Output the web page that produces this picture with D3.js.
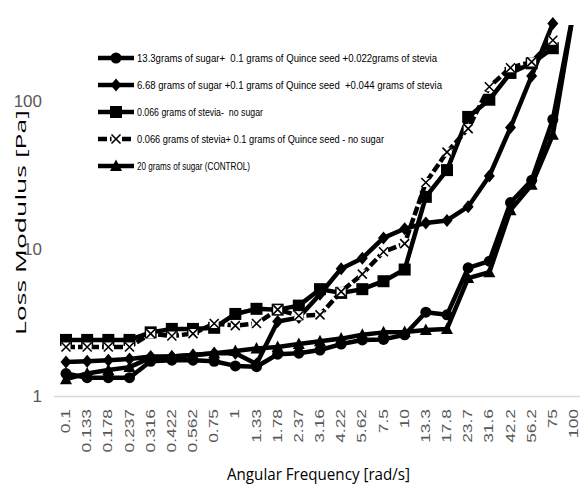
<!DOCTYPE html>
<html>
<head>
<meta charset="utf-8">
<script src="https://cdn.jsdelivr.net/npm/d3@7"></script>
<style>
  body { margin: 0; background: #fff; }
  svg { display: block; }
</style>
</head>
<body>
<svg id="chart" width="580" height="487"></svg>
<script>
// angular frequency categories (rad/s)
var freqs = ["0.1", "0.133", "0.178", "0.237", "0.316", "0.422", "0.562", "0.75", "1", "1.33",
    "1.78", "2.37", "3.16", "4.22", "5.62", "7.5", "10", "13.3", "17.8", "23.7", "31.6", "42.2",
    "56.2", "75", "100"];

// loss modulus [Pa]
var sugar133 = [1.42, 1.33, 1.33, 1.33, 1.72, 1.75, 1.75, 1.72, 1.6, 1.58, 1.92, 1.95, 2.05,
    2.25, 2.4, 2.42, 2.6, 3.7, 3.55, 7.4, 8.2, 20.5, 29, 75, 420];
var sugar668 = [1.7, 1.72, 1.75, 1.78, 1.85, 1.85, 1.9, 1.95, 1.95, 1.65, 3.2, 3.4, 4.9,
    7.3, 8.6, 11.8, 13.6, 14.9, 15.5, 19.2, 31, 66, 148, 335];
var steviaOnly = [2.4, 2.4, 2.4, 2.4, 2.7, 2.85, 2.85, 2.9, 3.6, 3.9, 3.85, 4.1, 5.3,
    5.0, 5.3, 6.0, 7.2, 22.4, 34, 78, 102, 155, 180, 228];
var steviaQuince = [2.15, 2.15, 2.15, 2.15, 2.65, 2.55, 2.65, 3.1, 3.0, 3.1, 3.85, 3.5, 3.55,
    5.1, 6.7, 9.5, 10.8, 28, 45, 65, 125, 168, 184, 258];
var control = [1.3, 1.42, 1.5, 1.57, 1.82, 1.85, 1.9, 1.95, 2.02, 2.1, 2.15, 2.25, 2.35,
    2.45, 2.6, 2.7, 2.72, 2.8, 2.85, 6.3, 6.9, 18.2, 27, 59, 420];

var seriesNames = [
    "13.3grams of sugar+  0.1 grams of Quince seed +0.022grams of stevia",
    "6.68 grams of sugar +0.1 grams of Quince seed  +0.044 grams of stevia",
    "0.066 grams of stevia-  no sugar",
    "0.066 grams of stevia+ 0.1 grams of Quince seed - no sugar",
    "20 grams of sugar (CONTROL)"
];
var yTicks = [1, 10, 100];

var series = [
    {name: seriesNames[0], values: sugar133, marker: "circle", dash: null, legendW: 300},
    {name: seriesNames[1], values: sugar668, marker: "diamond", dash: null, legendW: 305},
    {name: seriesNames[2], values: steviaOnly, marker: "square", dash: null, legendW: 126},
    {name: seriesNames[3], values: steviaQuince, marker: "x", dash: "9,3", legendW: 247},
    {name: seriesNames[4], values: control, marker: "triangle", dash: null, legendW: 113}
];

var svg = d3.select("#chart");

var x = d3.scalePoint()
    .domain(freqs)
    .range([66, 574]);

var y = d3.scaleLog()
    .domain([1, 1000])
    .range([396, 396 - 3 * 147.5]);

svg.append("defs").append("clipPath")
    .attr("id", "plotclip")
    .append("rect")
    .attr("x", 0)
    .attr("y", 25)
    .attr("width", 580)
    .attr("height", 380);

// category axis line
svg.append("line")
    .attr("x1", 54)
    .attr("x2", 580)
    .attr("y1", y(1) + 0.5)
    .attr("y2", y(1) + 0.5)
    .attr("stroke", "#d9d9d9")
    .attr("stroke-width", 1.5);

// y tick labels
svg.selectAll(".ylab")
    .data(yTicks)
    .enter()
    .append("text")
    .attr("class", "ylab")
    .attr("x", 42)
    .attr("y", function(d) { return y(d); })
    .attr("dy", "0.36em")
    .attr("text-anchor", "end")
    .attr("fill", "#595959")
    .style("font-family", "'Liberation Sans Narrow', 'Arial Narrow', sans-serif")
    .style("font-size", "17px")
    .text(function(d) { return d; });

// x tick labels, rotated
svg.selectAll(".xlab")
    .data(freqs)
    .enter()
    .append("text")
    .attr("class", "xlab")
    .attr("transform", function(d) {
        return "translate(" + (x(d) + 4) + ",409) rotate(-90) scale(1.45,1)";
    })
    .attr("text-anchor", "end")
    .attr("fill", "#595959")
    .style("font-family", "'Liberation Sans', Arial, sans-serif")
    .style("font-size", "12px")
    .text(function(d) { return d; });

// axis titles
svg.append("text")
    .attr("x", 227)
    .attr("y", 480)
    .attr("textLength", 183)
    .attr("lengthAdjust", "spacingAndGlyphs")
    .attr("fill", "#000")
    .style("font-family", "'Open Sans', sans-serif")
    .style("font-size", "16px")
    .text("Angular Frequency [rad/s]");

svg.append("text")
    .attr("transform", "translate(26,335) rotate(-90)")
    .attr("textLength", 225)
    .attr("lengthAdjust", "spacingAndGlyphs")
    .attr("fill", "#000")
    .style("font-family", "'Open Sans', sans-serif")
    .style("font-size", "14px")
    .text("Loss Modulus [Pa]");

function drawMarker(g, type) {
    if (type === "circle") {
        g.append("circle").attr("r", 5.5).attr("fill", "#000");
    } else if (type === "diamond") {
        g.append("path").attr("d", "M0,-6.5L5.5,0L0,6.5L-5.5,0Z").attr("fill", "#000");
    } else if (type === "square") {
        g.append("rect").attr("x", -6).attr("y", -6).attr("width", 12).attr("height", 12)
            .attr("fill", "#000");
    } else if (type === "x") {
        g.append("rect").attr("x", -4.5).attr("y", -4.5).attr("width", 9).attr("height", 9)
            .attr("fill", "#fff");
        g.append("path").attr("d", "M-4.5,-4.5L4.5,4.5M4.5,-4.5L-4.5,4.5")
            .attr("stroke", "#000").attr("stroke-width", 1.6).attr("fill", "none");
    } else if (type === "triangle") {
        g.append("path").attr("d", "M0,-6.5L6,5L-6,5Z").attr("fill", "#000");
    }
}

var line = d3.line()
    .x(function(d, i) { return x(freqs[i]); })
    .y(function(d) { return y(d); });

series.forEach(function(s) {
    var g = svg.append("g");
    g.append("path")
        .datum(s.values)
        .attr("clip-path", "url(#plotclip)")
        .attr("d", line)
        .attr("fill", "none")
        .attr("stroke", "#000")
        .attr("stroke-width", 4.5)
        .attr("stroke-linejoin", "round")
        .attr("stroke-dasharray", s.dash);

    g.selectAll(".pt")
        .data(s.values.map(function(v, i) { return {v: v, f: freqs[i]}; })
            .filter(function(d) { return y(d.v) > 12; }))
        .enter()
        .append("g")
        .attr("class", "pt")
        .attr("transform", function(d) { return "translate(" + x(d.f) + "," + y(d.v) + ")"; })
        .each(function() { drawMarker(d3.select(this), s.marker); });
});

// legend
var legend = svg.append("g");
series.forEach(function(s, i) {
    var ly = 58 + i * 27;
    legend.append("line")
        .attr("x1", 98).attr("x2", 134)
        .attr("y1", ly).attr("y2", ly)
        .attr("stroke", "#000")
        .attr("stroke-width", 4.5)
        .attr("stroke-dasharray", s.dash);
    var mg = legend.append("g").attr("transform", "translate(116," + ly + ")");
    drawMarker(mg, s.marker);
    legend.append("text")
        .attr("x", 137)
        .attr("y", ly + 4)
        .attr("textLength", s.legendW)
        .attr("lengthAdjust", "spacingAndGlyphs")
        .attr("fill", "#000")
        .style("white-space", "pre")
        .style("font-family", "'Liberation Sans Narrow', 'Arial Narrow', sans-serif")
        .style("font-size", "11.5px")
        .text(s.name);
});
</script>
</body>
</html>
